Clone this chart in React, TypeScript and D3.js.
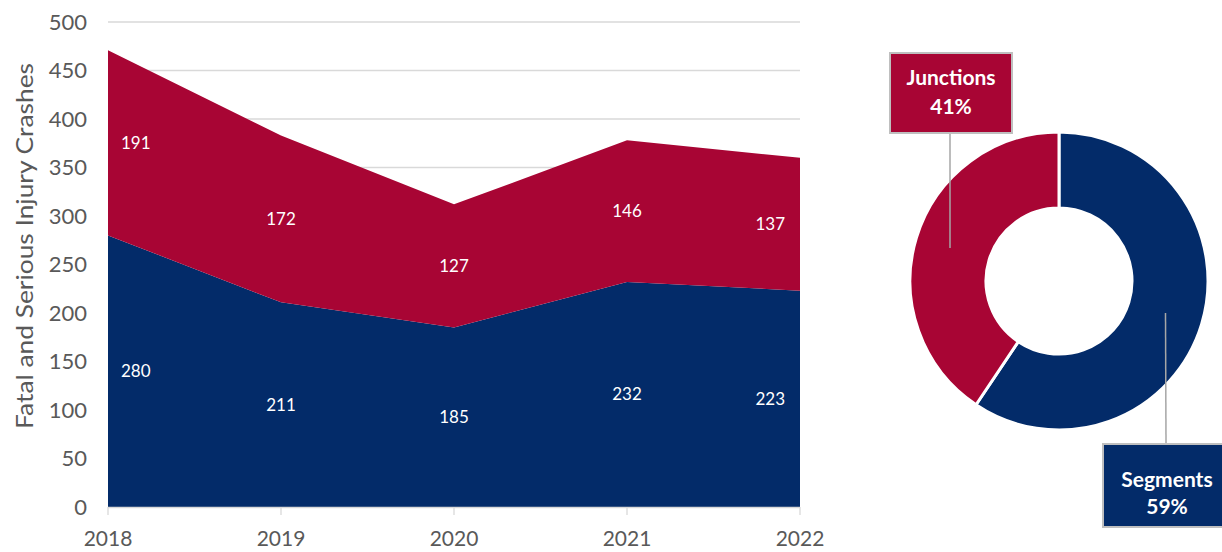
import React from "react";
import * as d3 from "d3";

const years = [2018, 2019, 2020, 2021, 2022];
const segments = [280, 211, 185, 232, 223];
const junctions = [191, 172, 127, 146, 137];
const yTicks = [0, 50, 100, 150, 200, 250, 300, 350, 400, 450, 500];
const seriesNames = ["Segments", "Junctions"];
const yTitle = "Fatal and Serious Injury Crashes";

const NAVY = "#032B69";
const CRIMSON = "#A80534";
const GRID = "#D9D9D9";
const TEXT = "#595959";
const FONT = "Lato, 'Open Sans', sans-serif";

export default function App() {
  const W = 1222, H = 552;
  const x = d3.scalePoint<number>().domain(years).range([108, 800]);
  const y = d3.scaleLinear().domain([0, 500]).range([507, 22]);

  const rows = years.map((yr, i) => ({ year: yr, Segments: segments[i], Junctions: junctions[i] }));
  const stacked = d3.stack<any>().keys(seriesNames)(rows);
  const area = d3.area<any>()
    .x((d) => x(d.data.year)!)
    .y0((d) => y(d[0]))
    .y1((d) => y(d[1]))
    .curve(d3.curveLinear);
  const colors = [NAVY, CRIMSON];

  // donut
  const totSeg = d3.sum(segments);
  const totJun = d3.sum(junctions);
  const total = totSeg + totJun;
  const pieData = [
    { name: "Segments", value: totSeg, color: NAVY },
    { name: "Junctions", value: totJun, color: CRIMSON },
  ];
  const pie = d3.pie<any>().value((d) => d.value).sort(null)(pieData);
  const arc = d3.arc<any>().innerRadius(73).outerRadius(149);
  const cx = 1059, cy = 281;
  const pct = (v: number) => Math.round((v / total) * 100) + "%";

  return (
    <svg width={W} height={H} style={{ position: "absolute", left: 0, top: 0, background: "#fff" }} fontFamily={FONT}>
      {/* gridlines */}
      {yTicks.map((t) => (
        <line key={t} x1={108} x2={800} y1={y(t)} y2={y(t)} stroke={GRID} strokeWidth={1.3} />
      ))}
      {/* y tick labels */}
      {yTicks.map((t) => (
        <text key={"l" + t} x={87} y={y(t)} dy="0.36em" textAnchor="end" fontSize={22} fill={TEXT}>
          {t}
        </text>
      ))}
      {/* areas */}
      {stacked.map((s, i) => (
        <path key={s.key} d={area(s)!} fill={colors[i]} />
      ))}
      {/* x axis */}
      <line x1={108} x2={800} y1={507.5} y2={507.5} stroke={GRID} strokeWidth={1.3} />
      {years.map((yr) => (
        <line key={"t" + yr} x1={x(yr)!} x2={x(yr)!} y1={507} y2={515} stroke={GRID} strokeWidth={1.3} />
      ))}
      {years.map((yr) => (
        <text key={"x" + yr} x={x(yr)!} y={546} textAnchor="middle" fontSize={21} fill={TEXT}>
          {yr}
        </text>
      ))}
      {/* y title */}
      <text
        transform={`translate(33,246) rotate(-90)`}
        textAnchor="middle"
        fontSize={24}
        textLength={366}
        lengthAdjust="spacingAndGlyphs"
        fill={TEXT}
      >
        {yTitle}
      </text>
      {/* data labels */}
      {stacked.map((s) =>
        s.map((d: any, i: number) => {
          const xi = x(d.data.year)!;
          const anchor = i === 0 ? "start" : i === years.length - 1 ? "end" : "middle";
          const xx = i === 0 ? xi + 13 : i === years.length - 1 ? xi - 15 : xi;
          return (
            <text
              key={s.key + i}
              x={xx}
              y={y((d[0] + d[1]) / 2)}
              dy="0.35em"
              textAnchor={anchor}
              fontSize={17}
              fill="#fff"
            >
              {d[1] - d[0]}
            </text>
          );
        })
      )}
      {/* donut */}
      <g transform={`translate(${cx},${cy})`}>
        {pie.map((p) => (
          <path key={p.data.name} d={arc(p)!} fill={p.data.color} stroke="#fff" strokeWidth={3} />
        ))}
      </g>
      {/* leader lines */}
      <line x1={950} x2={950} y1={134} y2={248} stroke="#A6A6A6" strokeWidth={1.5} />
      <line x1={1165.5} x2={1166} y1={313} y2={443} stroke="#A6A6A6" strokeWidth={1.5} />
      {/* Junctions label */}
      <rect x={890} y={53} width={122} height={80} fill={CRIMSON} stroke="#BFBFBF" strokeWidth={2} />
      <text x={951} y={85} textAnchor="middle" fontSize={21} fontWeight="bold" fill="#fff">Junctions</text>
      <text x={951} y={114} textAnchor="middle" fontSize={21} fontWeight="bold" fill="#fff">
        {pct(totJun)}
      </text>
      {/* Segments label */}
      <rect x={1103} y={444} width={122} height={83} fill={NAVY} stroke="#BFBFBF" strokeWidth={2} />
      <text x={1167} y={487} textAnchor="middle" fontSize={21} fontWeight="bold" fill="#fff">Segments</text>
      <text x={1167} y={514} textAnchor="middle" fontSize={21} fontWeight="bold" fill="#fff">
        {pct(totSeg)}
      </text>
    </svg>
  );
}
